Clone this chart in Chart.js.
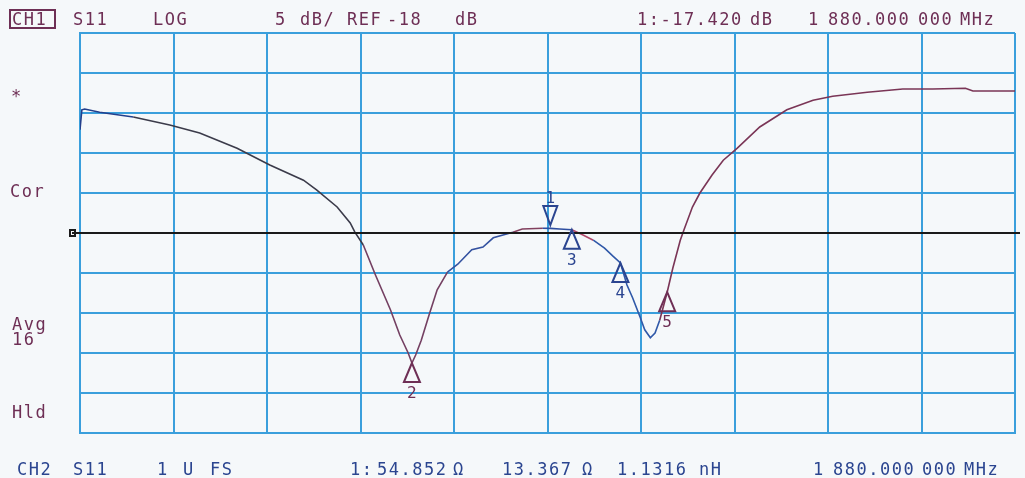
<!DOCTYPE html>
<html lang="en">
<head>
<meta charset="UTF-8">
<title>S11 LOG</title>
<script src="https://cdn.jsdelivr.net/npm/chart.js"></script>
<style>
    body { margin: 0; background: #f5f8fa; }
    canvas { display: block; }
</style>
</head>
<body>
<canvas id="s11" width="1025" height="478"></canvas>
<script>
// sweep position in grid divisions (0..10) and S11 in dB
const sweepDiv = [0, 0.02, 0.05, 0.21, 0.57, 0.96, 1.28, 1.68, 2.03, 2.39, 2.53, 2.75, 2.89, 2.94, 3.03,
    3.16, 3.32, 3.42, 3.51, 3.55, 3.59, 3.65, 3.74, 3.82, 3.93, 4.04, 4.19, 4.31, 4.42, 4.63, 4.73,
    4.95, 5.03, 5.13, 5.26, 5.38, 5.49, 5.61, 5.70, 5.78, 5.85, 5.91, 5.99, 6.04, 6.10, 6.15, 6.20,
    6.28, 6.34, 6.42, 6.46, 6.55, 6.63, 6.76, 6.88, 7.03, 7.27, 7.56, 7.84, 8.05, 8.42, 8.80, 9.12,
    9.47, 9.55, 10.0];
const s11dB = [-5.1, -2.6, -2.5, -2.9, -3.5, -4.5, -5.5, -7.4, -9.5, -11.4, -12.6, -14.75, -16.75, -17.9, -19.5,
    -23.25, -27.6, -30.75, -33.0, -34.25, -33.25, -31.4, -28.0, -25.1, -22.9, -21.9, -20.1, -19.75, -18.6, -17.9, -17.5,
    -17.4, -17.42, -17.5, -17.6, -18.25, -18.9, -19.9, -20.9, -21.75, -24.5, -26.1, -28.5, -30.1, -31.1, -30.5, -28.9,
    -25.4, -22.4, -18.9, -17.6, -14.75, -13.0, -10.75, -8.9, -7.4, -4.75, -2.6, -1.4, -0.9, -0.4, 0.0, 0.0,
    0.1, -0.25, -0.25];

const refLevel = -18;
const dbPerDiv = 5;

// markers 1..5
const markerNames = ['1', '2', '3', '4', '5'];
const markerDiv = [5.03, 3.55, 5.26, 5.78, 6.28];
const markerDB = [-17.0, -34.25, -17.6, -21.75, -25.4];

const NAVY = '#2b4590';
const MAROON = '#6e2f55';
const GRID = '#3a9fdc';

function traceColor(x) {
    if (x < 0.5) return '#24408c';
    if (x < 3.0) return '#3b3b4a';
    if (x < 3.9) return '#744062';
    if (x < 4.6) return '#3452a0';
    if (x < 4.95) return '#82405e';
    if (x < 5.2) return '#2d4ea0';
    if (x < 5.45) return '#b0486a';
    if (x < 6.2) return '#2f58a8';
    return '#7a3556';
}

const textPlugin = {
    id: 'screenText',
    afterDraw(chart) {
        const ctx = chart.ctx;
        const xs = chart.scales.x, ys = chart.scales.y;
        ctx.save();
        ctx.font = '17px "DejaVu Sans Mono", monospace';
        ctx.letterSpacing = '1.5px';
        ctx.textBaseline = 'alphabetic';
        const put = (t, x, y, c) => { ctx.fillStyle = c; ctx.fillText(t, x, y); };

        // top line
        ctx.strokeStyle = MAROON; ctx.lineWidth = 2;
        ctx.strokeRect(10, 10, 45, 18);
        [['CH1', 12], ['S11', 73], ['LOG', 153], ['5', 275], ['dB/', 300], ['REF', 347], ['-18', 387],
         ['dB', 455], ['1:-17.420', 637], ['dB', 750], ['1', 808], ['880.000', 828], ['000', 918], ['MHz', 960]]
            .forEach(([t, x]) => put(t, x, 25, MAROON));

        // bottom line
        [['CH2', 17], ['S11', 73], ['1', 157], ['U', 183], ['FS', 210], ['1:', 350], ['54.852', 377], ['Ω', 453],
         ['13.367', 502], ['Ω', 582], ['1.1316', 617], ['nH', 699], ['1', 813], ['880.000', 833], ['000', 922], ['MHz', 964]]
            .forEach(([t, x]) => put(t, x, 475, NAVY));

        // left annotations
        [['*', 11, 102], ['Cor', 10, 197], ['Avg', 12, 330], ['16', 12, 345], ['Hld', 12, 418]]
            .forEach(([t, x, y]) => put(t, x, y, MAROON));

        // reference line and its pointer
        const yr = ys.getPixelForValue(refLevel);
        ctx.strokeStyle = '#1a1a1a'; ctx.lineWidth = 2;
        ctx.beginPath(); ctx.moveTo(72, yr); ctx.lineTo(chart.chartArea.right + 5, yr); ctx.stroke();
        ctx.strokeRect(70, yr - 3, 5, 6);

        // markers
        ctx.font = '16px "DejaVu Sans Mono", monospace';
        ctx.letterSpacing = '0px';
        ctx.textAlign = 'center';
        ctx.lineWidth = 2;
        markerNames.forEach((name, i) => {
            const px = xs.getPixelForValue(markerDiv[i]);
            const py = ys.getPixelForValue(markerDB[i]);
            const col = (i === 1 || i === 4) ? MAROON : NAVY;
            ctx.strokeStyle = col; ctx.fillStyle = col;
            ctx.beginPath();
            if (i === 0) {
                ctx.moveTo(px, py);
                ctx.lineTo(px - 7, py - 19);
                ctx.lineTo(px + 7, py - 19);
                ctx.closePath(); ctx.stroke();
                ctx.fillText(name, px, py - 22);
            } else {
                ctx.moveTo(px, py);
                ctx.lineTo(px - 8, py + 19);
                ctx.lineTo(px + 8, py + 19);
                ctx.closePath(); ctx.stroke();
                ctx.fillText(name, px, py + 35);
            }
        });
        ctx.restore();
    }
};

new Chart(document.getElementById('s11'), {
    type: 'line',
    data: {
        datasets: [{
            data: sweepDiv.map((x, i) => ({ x: x, y: s11dB[i] })),
            borderColor: '#3b3b4a',
            borderWidth: 1.6,
            pointRadius: 0,
            tension: 0,
            segment: { borderColor: c => traceColor(c.p0.parsed.x) }
        }]
    },
    options: {
        responsive: false,
        animation: false,
        layout: { padding: { left: 80, top: 33, right: 10, bottom: 45 } },
        plugins: { legend: { display: false }, tooltip: { enabled: false } },
        scales: {
            x: {
                type: 'linear', min: 0, max: 10,
                ticks: { display: false, stepSize: 1 },
                grid: { color: GRID, lineWidth: 2, drawTicks: false },
                border: { color: GRID, width: 2 },
                afterFit: s => { s.height = 0; }
            },
            y: {
                min: refLevel - 5 * dbPerDiv, max: refLevel + 5 * dbPerDiv,
                ticks: { display: false, stepSize: dbPerDiv },
                grid: { color: GRID, lineWidth: 2, drawTicks: false },
                border: { color: GRID, width: 2 },
                afterFit: s => { s.width = 0; }
            }
        }
    },
    plugins: [textPlugin]
});
</script>
</body>
</html>
